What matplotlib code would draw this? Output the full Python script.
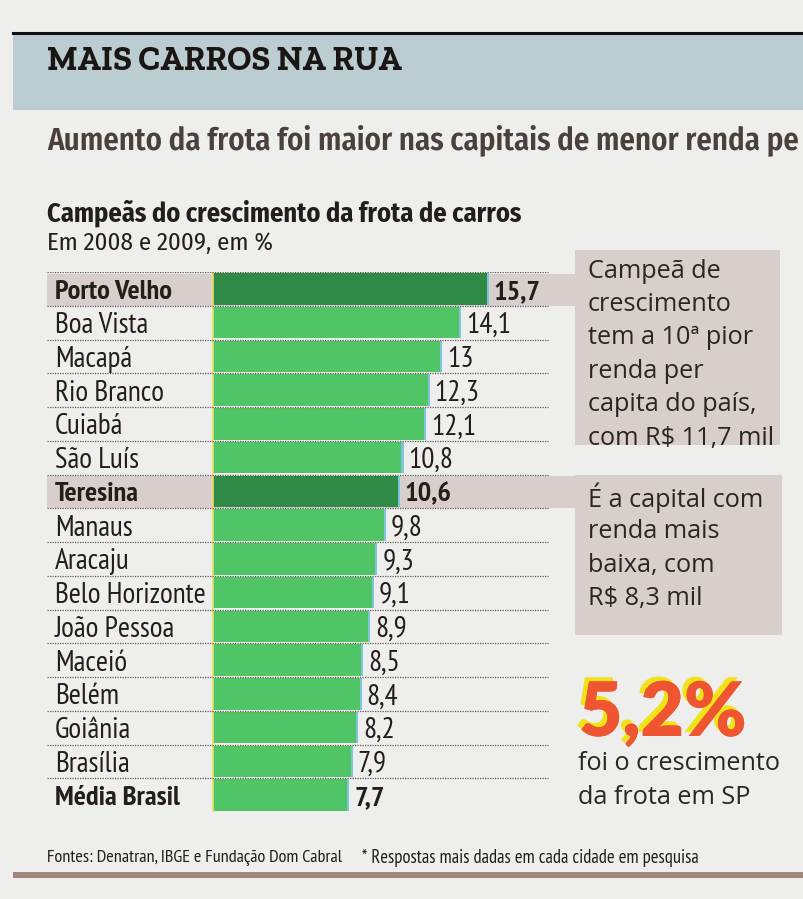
import matplotlib
matplotlib.use("Agg")
import matplotlib.pyplot as plt
from matplotlib.patches import Rectangle
from matplotlib.lines import Line2D
import matplotlib.patheffects as pe

# ---------------- data ----------------
cities = ["Porto Velho", "Boa Vista", "Macapá", "Rio Branco", "Cuiabá", "São Luís",
          "Teresina", "Manaus", "Aracaju", "Belo Horizonte", "João Pessoa", "Maceió",
          "Belém", "Goiânia", "Brasília", "Média Brasil"]
growth = [15.7, 14.1, 13, 12.3, 12.1, 10.8, 10.6, 9.8, 9.3, 9.1, 8.9, 8.5, 8.4, 8.2, 7.9, 7.7]
highlight_rows = ["Porto Velho", "Teresina"]
bold_rows = ["Porto Velho", "Teresina", "Média Brasil"]

title = "MAIS CARROS NA RUA"
subtitle = "Aumento da frota foi maior nas capitais de menor renda pe"
chart_title = "Campeãs do crescimento da frota de carros"
chart_sub = "Em 2008 e 2009, em %"
box1 = ["Campeã de", "crescimento", "tem a 10ª pior", "renda per", "capita do país,", "com R$ 11,7 mil"]
box2 = ["É a capital com", "renda mais", "baixa, com", "R$ 8,3 mil"]
sp_value = "5,2%"
sp_text = ["foi o crescimento", "da frota em SP"]
footer_a = "Fontes: Denatran, IBGE e Fundação Dom Cabral"
footer_b = "* Respostas mais dadas em cada cidade em pesquisa"

# ---------------- style ----------------
W, H = 804, 899
PAGE = "#eeeeec"
BAND = "#bccdd2"
TAN = "#d8cecb"
GREEN = "#50c565"
DGREEN = "#2f8a45"
NARROW = ["PT Sans Narrow", "Fira Sans Condensed", "DejaVu Sans"]
COND = ["Fira Sans Condensed", "PT Sans Narrow", "DejaVu Sans"]
HUMAN = ["Open Sans", "DejaVu Sans"]
INK = "#231d1b"

fig = plt.figure(figsize=(W / 100, H / 100), dpi=100)
fig.patch.set_facecolor(PAGE)
renderer = fig.canvas.get_renderer()


def fx(x):
    return x / W


def fy(y):
    return 1 - y / H


def frect(x0, y0, x1, y1, color, z=0):
    fig.add_artist(Rectangle((fx(x0), fy(y1)), (x1 - x0) / W, (y1 - y0) / H,
                             transform=fig.transFigure, facecolor=color, lw=0, zorder=z))


def ftext(x, y, s, **kw):
    return fig.text(fx(x), fy(y), s, **kw)


def fit(t, width_px):
    """Rescale a text so that its rendered width matches width_px."""
    fs = t.get_fontsize()
    w = t.get_window_extent(renderer).width
    t.set_fontsize(fs * width_px / w)
    return t.get_fontsize()


def size_for(s, width_px, **kw):
    t = fig.text(0, 0, s, fontsize=20, **kw)
    fs = fit(t, width_px)
    t.remove()
    return fs


# header band
frect(13, 34, 804, 110, BAND)
fig.add_artist(Line2D([fx(13), fx(804)], [fy(33), fy(33)], color="#111111", lw=2.2,
                      transform=fig.transFigure))
fit(ftext(47, 62, title, family=["Zilla Slab", "Roboto Slab", "DejaVu Serif"], weight="bold",
          fontsize=25, color="#1a1614", va="center", ha="left"), 355)
fit(ftext(47, 140, subtitle, family=COND, weight="semibold", fontsize=21, color="#4a403c",
          va="center", ha="left"), 752)

fit(ftext(47, 213, chart_title, family=COND, weight="bold", fontsize=19, color=INK,
          va="center", ha="left"), 475)
fit(ftext(47, 243, chart_sub, family=COND, fontsize=18, color=INK,
          va="center", ha="left"), 225)

# side boxes
frect(575, 250, 780, 445, TAN)
frect(575, 475, 782, 635, TAN)
for i, line in enumerate(box1):
    ftext(588, 271 + i * 33.4, line, family=HUMAN, fontsize=18.2, color="#2a2624",
          va="center", ha="left")
for i, line in enumerate(box2):
    ftext(588, 498 + i * 33.6, line, family=HUMAN, fontsize=18.2, color="#2a2624",
          va="center", ha="left")

# SP highlight (yellow offset print shadow)
ftext(579, 714, sp_value, family=["Lato", "DejaVu Sans"], weight="heavy", fontsize=54,
      color="#ee5530", va="center", ha="left",
      path_effects=[pe.withSimplePatchShadow(offset=(-3, 3), shadow_rgbFace="#f2e21a",
                                             alpha=1.0), pe.Normal()])
for i, line in enumerate(sp_text):
    ftext(578, 764 + i * 34, line, family=HUMAN, fontsize=18.2, color="#2a2624",
          va="center", ha="left")

# footer
fit(ftext(47, 858, footer_a, family=NARROW, fontsize=11.5, color=INK, va="center",
          ha="left"), 299)
fit(ftext(362, 858, footer_b, family=NARROW, fontsize=11.5, color=INK, va="center",
          ha="left"), 338)
frect(13, 872, 804, 878, "#a3877f")

# ---------------- bar chart ----------------
AX_L, AX_R, AX_T, AX_B = 47, 575, 272, 812
ZERO_PX = 213
PX_PER_UNIT = 17.45
ax = fig.add_axes([fx(AX_L), fy(AX_B), (AX_R - AX_L) / W, (AX_B - AX_T) / H])
ax.set_facecolor("none")
ax.set_xlim(-(ZERO_PX - AX_L) / PX_PER_UNIT, (AX_R - ZERO_PX) / PX_PER_UNIT)
n = len(cities)
ax.set_ylim(n, 0)
ax.axis("off")

ypos = [i + 0.5 for i in range(n)]
for i, c in enumerate(cities):
    if c in highlight_rows:
        ax.axhspan(i + 0.05, i + 1, color=TAN, lw=0, zorder=0)

colors = [DGREEN if c in highlight_rows else GREEN for c in cities]
ax.barh(ypos, growth, height=0.94, left=0, color=colors, lw=0, zorder=2)
# thin cyan misregistration edge at the bar ends
ax.barh(ypos, [0.12] * n, height=0.94, left=growth, color="#7fc4dc", lw=0, zorder=1.9)
ax.axvline(0, color="#e6df5a", lw=1.2, zorder=3)

# dotted row separators
line_end = (548 - AX_L) / (AX_R - AX_L)
for i in range(n):
    ax.axhline(i, xmin=0, xmax=line_end, color="#5f5a58", lw=0.9,
               linestyle=(0, (1, 1)), zorder=4)

fs_reg = size_for("Belo Horizonte", 150, family=NARROW)
fs_bold = size_for("Porto Velho", 117, family=NARROW, weight="bold")

ytr = ax.get_yaxis_transform()
for i, (c, v) in enumerate(zip(cities, growth)):
    b = "bold" if c in bold_rows else "normal"
    fs = fs_bold if b == "bold" else fs_reg
    ax.annotate(c, (0, ypos[i]), xycoords=ytr, xytext=(8, -3), textcoords="offset pixels",
                family=NARROW, weight=b, fontsize=fs, color=INK,
                va="center", ha="left", zorder=5)
    label = f"{v:g}".replace(".", ",")
    ax.annotate(label, (v, ypos[i]), xytext=(7, -3), textcoords="offset pixels",
                family=NARROW, weight=b, fontsize=fs, color=INK,
                va="center", ha="left", zorder=5)

fig.savefig("out.png", dpi=100, facecolor=fig.get_facecolor())
